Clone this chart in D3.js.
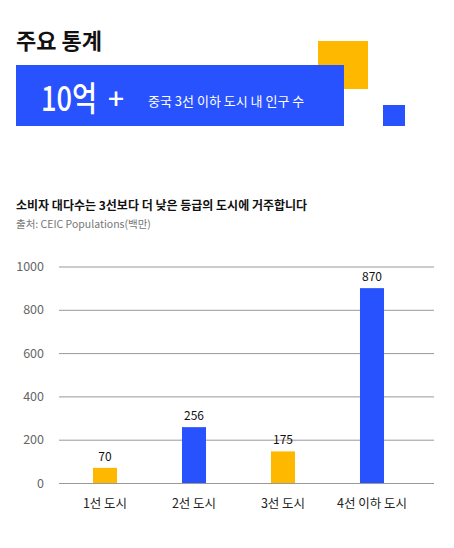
<!DOCTYPE html>
<html><head><meta charset="utf-8">
<script src="https://cdn.jsdelivr.net/npm/d3@7"></script>
<style>
body{margin:0;background:#fff;}
text{font-family:"Noto Sans CJK KR","Noto Sans",sans-serif;}
</style></head>
<body>
<svg id="c" width="454" height="548"></svg>
<script>
const categories = ["1선 도시", "2선 도시", "3선 도시", "4선 이하 도시"];
const barValues = [70, 258, 146, 900];
const valueLabels = ["70", "256", "175", "870"];
const barColors = ["#FFB800", "#2952FF", "#FFB800", "#2952FF"];
const yTicks = [0, 200, 400, 600, 800, 1000];

const BLUE = "#2952FF", YELLOW = "#FFB800";
const svg = d3.select("#c");

// header
svg.append("text").attr("x", 16).attr("y", 49).attr("font-size", 22).attr("font-weight", 700)
  .attr("fill", "#111").text("주요 통계");
svg.append("rect").attr("x", 318).attr("y", 41).attr("width", 50).attr("height", 48).attr("fill", YELLOW);
svg.append("rect").attr("x", 16).attr("y", 65).attr("width", 328).attr("height", 61).attr("fill", BLUE);
svg.append("rect").attr("x", 383).attr("y", 105).attr("width", 22).attr("height", 21).attr("fill", BLUE);
svg.append("text").attr("transform", "translate(41,111) scale(0.8,1)")
  .attr("font-size", 34).attr("font-weight", 500).attr("fill", "#fff").text("10억");
svg.append("text").attr("x", 108).attr("y", 109).attr("font-size", 28).attr("font-weight", 500).attr("fill", "#fff").text("+");
svg.append("text").attr("x", 148).attr("y", 106).attr("font-size", 13).attr("fill", "#fff").text("중국 3선 이하 도시 내 인구 수");

// chart titles
svg.append("text").attr("x", 16).attr("y", 210).attr("font-size", 12).attr("font-weight", 700)
  .attr("fill", "#111").text("소비자 대다수는 3선보다 더 낮은 등급의 도시에 거주합니다");
svg.append("text").attr("x", 16).attr("y", 228).attr("font-size", 10.5)
  .attr("fill", "#777").text("출처: CEIC Populations(백만)");

// chart
const y = d3.scaleLinear().domain([0, 1000]).range([483, 266.5]);
const x = d3.scaleBand().domain(categories).range([60.5, 416.5]).paddingInner(0.73).paddingOuter(0.365);

const g = svg.append("g");
const yAxis = d3.axisLeft(y).tickValues(yTicks).tickFormat(d3.format("d")).tickSize(-(434 - 59)).tickPadding(15);
const ya = g.append("g").attr("transform", "translate(59,0)").call(yAxis);
ya.select(".domain").remove();
ya.selectAll(".tick line").attr("stroke", "#999").attr("stroke-width", 1);
ya.selectAll(".tick text").attr("font-size", 12.5).attr("fill", "#666")
  .attr("font-family", "'Noto Sans CJK KR','Noto Sans',sans-serif");

g.selectAll("rect.bar").data(categories).join("rect").attr("class", "bar")
  .attr("x", d => x(d)).attr("width", x.bandwidth())
  .attr("y", (d, i) => y(barValues[i])).attr("height", (d, i) => y(0) - y(barValues[i]))
  .attr("fill", (d, i) => barColors[i]);

g.selectAll("text.lbl").data(categories).join("text").attr("class", "lbl")
  .attr("x", d => x(d) + x.bandwidth() / 2).attr("y", (d, i) => y(barValues[i]) - 7)
  .attr("text-anchor", "middle").attr("font-size", 12).attr("fill", "#111")
  .text((d, i) => valueLabels[i]);

const xAxis = d3.axisBottom(x).tickSize(0).tickPadding(16);
const xa = g.append("g").attr("transform", `translate(0,${y(0)})`).call(xAxis);
xa.select(".domain").remove();
xa.selectAll(".tick text").attr("font-size", 12.5).attr("fill", "#222")
  .attr("font-family", "'Noto Sans CJK KR','Noto Sans',sans-serif");
</script>
</body></html>
